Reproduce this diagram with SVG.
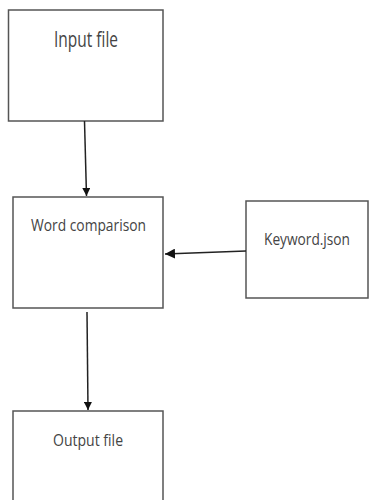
<svg xmlns="http://www.w3.org/2000/svg" width="369" height="500" viewBox="0 0 369 500">
<defs>
<style>
.box{fill:#fff;stroke:#555;stroke-width:1.5}
.lbl{font-family:"Open Sans","Liberation Sans",sans-serif;fill:#444;text-anchor:middle}
.conn{stroke:#222;stroke-width:1.5;fill:none}
</style>
<marker id="ah" viewBox="0 0 10 10" refX="10" refY="5" markerWidth="8" markerHeight="8" orient="auto" markerUnits="userSpaceOnUse">
<path d="M0,0 L10,5 L0,10 z" fill="#111"/>
</marker>
<marker id="ah2" viewBox="0 0 10 10" refX="10" refY="5" markerWidth="10" markerHeight="10" orient="auto" markerUnits="userSpaceOnUse">
<path d="M0,0 L10,5 L0,10 z" fill="#111"/>
</marker>
</defs>
<rect width="369" height="500" fill="#fff"/>
<g id="input-file">
<rect class="box" x="8.5" y="10" width="154.5" height="111"/>
<text class="lbl" x="86" y="47" font-size="22" textLength="64" lengthAdjust="spacingAndGlyphs">Input file</text>
</g>
<g id="word-comparison">
<rect class="box" x="13" y="197" width="150" height="111"/>
<text class="lbl" x="88.5" y="231" font-size="17" textLength="115" lengthAdjust="spacingAndGlyphs">Word comparison</text>
</g>
<g id="keyword-json">
<rect class="box" x="246" y="201" width="122" height="97"/>
<text class="lbl" x="307" y="245" font-size="16" textLength="86" lengthAdjust="spacingAndGlyphs">Keyword.json</text>
</g>
<g id="output-file">
<rect class="box" x="13" y="411" width="150" height="95"/>
<text class="lbl" x="88" y="446" font-size="17" textLength="70" lengthAdjust="spacingAndGlyphs">Output file</text>
</g>
<g id="connectors">
<line class="conn" x1="84.5" y1="121" x2="86.5" y2="196" marker-end="url(#ah)"/>
<line class="conn" x1="246" y1="251" x2="165" y2="254" stroke-width="2" marker-end="url(#ah2)"/>
<line class="conn" x1="87" y1="312" x2="88" y2="410" marker-end="url(#ah)"/>
</g>
</svg>
